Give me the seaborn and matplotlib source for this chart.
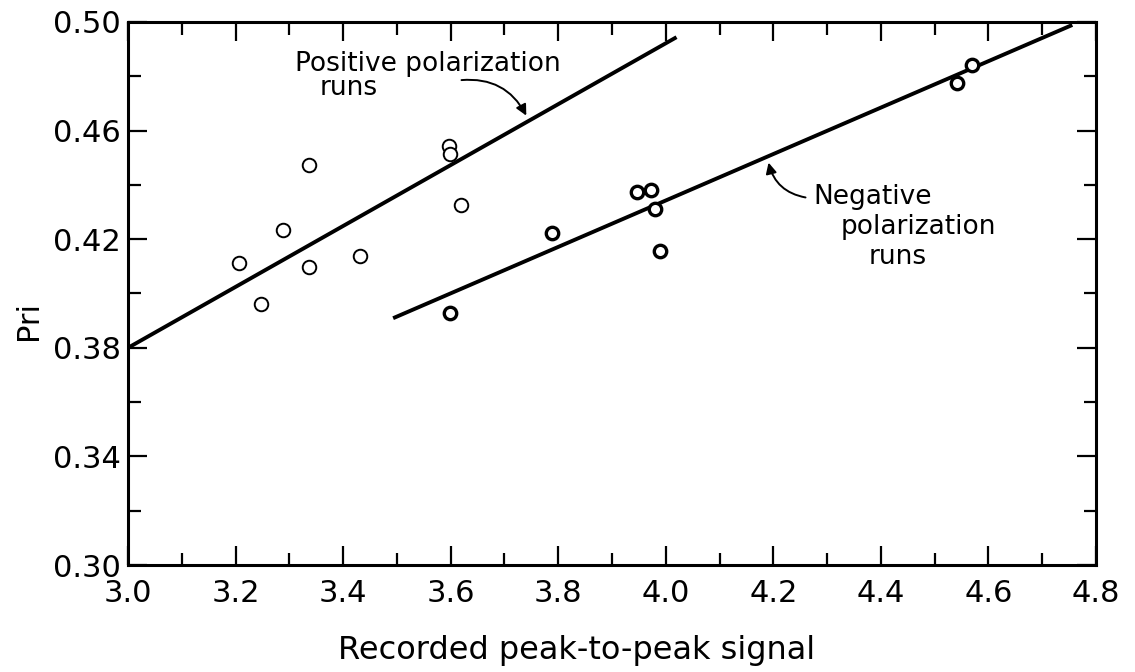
import matplotlib
matplotlib.use("Agg")
import matplotlib.pyplot as plt
import seaborn as sns
import pandas as pd
from matplotlib.ticker import MultipleLocator, FormatStrFormatter

# ---- data ----
pos_x = [3.207, 3.248, 3.289, 3.337, 3.336, 3.431, 3.597, 3.599, 3.620]
pos_y = [0.4112, 0.3962, 0.4234, 0.4473, 0.4097, 0.4139, 0.4543, 0.4514, 0.4325]

neg_x = [3.598, 3.788, 3.947, 3.972, 3.980, 3.989, 4.541, 4.570]
neg_y = [0.3927, 0.4224, 0.4374, 0.4382, 0.4313, 0.4156, 0.4777, 0.4842]

pos_line_x = [3.0, 4.02]
pos_line_y = [0.380, 0.4944]
neg_line_x = [3.493, 4.756]
neg_line_y = [0.3909, 0.4989]

x_ticks = [3.0, 3.2, 3.4, 3.6, 3.8, 4.0, 4.2, 4.4, 4.6, 4.8]
y_ticks = [0.30, 0.34, 0.38, 0.42, 0.46, 0.50]

sns.set_theme(style="ticks")
plt.rcParams["font.family"] = ["DejaVu Sans"]
plt.rcParams["text.color"] = "black"
plt.rcParams["axes.labelcolor"] = "black"
plt.rcParams["xtick.color"] = "black"
plt.rcParams["ytick.color"] = "black"

fig = plt.figure(figsize=(11.35, 6.72), dpi=100)
ax = fig.add_axes([0.1128, 0.1592, 0.8528, 0.8081])

pos_df = pd.DataFrame({"x": pos_x, "y": pos_y})
neg_df = pd.DataFrame({"x": neg_x, "y": neg_y})

sns.lineplot(x=pos_line_x, y=pos_line_y, ax=ax, color="black", linewidth=2.8,
             solid_capstyle="butt")
sns.lineplot(x=neg_line_x, y=neg_line_y, ax=ax, color="black", linewidth=2.8,
             solid_capstyle="butt")

sns.scatterplot(data=pos_df, x="x", y="y", ax=ax, s=95, marker="o",
                facecolor="white", edgecolor="black", linewidth=1.4, zorder=5)
sns.scatterplot(data=neg_df, x="x", y="y", ax=ax, s=80, marker="o",
                facecolor="white", edgecolor="black", linewidth=2.4, zorder=5)

ax.set_xlim(3.0, 4.8)
ax.set_ylim(0.30, 0.50)
ax.set_xticks(x_ticks)
ax.set_yticks(y_ticks)
ax.xaxis.set_minor_locator(MultipleLocator(0.1))
ax.yaxis.set_minor_locator(MultipleLocator(0.02))
ax.xaxis.set_major_formatter(FormatStrFormatter("%.1f"))
ax.yaxis.set_major_formatter(FormatStrFormatter("%.2f"))

ax.tick_params(which="both", direction="in", top=True, right=True,
               color="black", labelcolor="black", width=1.6)
ax.tick_params(which="major", length=14, labelsize=22)
ax.tick_params(axis="x", which="major", pad=10)
ax.tick_params(axis="y", which="major", pad=5)
ax.tick_params(which="minor", length=9)

for sp in ax.spines.values():
    sp.set_visible(True)
    sp.set_linewidth(2.2)
    sp.set_color("black")

ax.set_xlabel("Recorded peak-to-peak signal", fontsize=23)
ax.xaxis.set_label_coords(0.463, -0.128)
ax.set_ylabel("Pri", fontsize=22)
ax.yaxis.set_label_coords(-0.088, 0.45)

# annotations
ax.text(3.310, 0.4845, "Positive polarization", fontsize=19, ha="left",
        va="center", color="black")
ax.text(3.357, 0.4755, "runs", fontsize=19, ha="left", va="center",
        color="black")
ax.annotate("", xy=(3.743, 0.4646), xytext=(3.615, 0.4785),
            arrowprops=dict(arrowstyle="-|>", color="black", lw=1.4,
                            mutation_scale=16,
                            connectionstyle="arc3,rad=-0.35"))

ax.text(4.275, 0.4356, "Negative", fontsize=19, ha="left", va="center",
        color="black")
ax.text(4.325, 0.4245, "polarization", fontsize=19, ha="left", va="center",
        color="black")
ax.text(4.378, 0.4135, "runs", fontsize=19, ha="left", va="center",
        color="black")
ax.annotate("", xy=(4.190, 0.4492), xytext=(4.265, 0.4352),
            arrowprops=dict(arrowstyle="-|>", color="black", lw=1.4,
                            mutation_scale=16,
                            connectionstyle="arc3,rad=-0.35"))

fig.savefig("out.png", dpi=100, facecolor="white")
